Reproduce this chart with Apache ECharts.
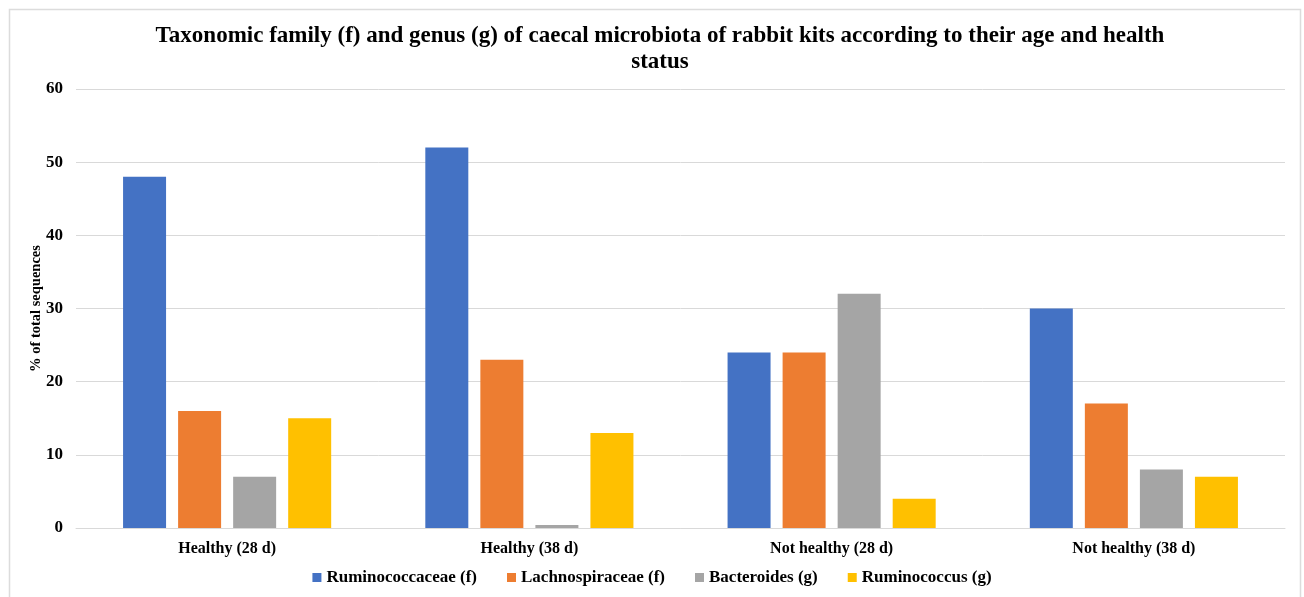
<!DOCTYPE html>
<html>
<head>
<meta charset="utf-8">
<script src="https://cdn.jsdelivr.net/npm/echarts@6/dist/echarts.min.js"></script>
<style>html,body{margin:0;padding:0;background:#fff}#c{width:1304px;height:597px}</style>
</head>
<body>
<div id="c"></div>
<script>
const categories = ['Healthy (28 d)', 'Healthy (38 d)', 'Not healthy (28 d)', 'Not healthy (38 d)'];
const ruminococcaceae = [48, 52, 24, 30];
const lachnospiraceae = [16, 23, 24, 17];
const bacteroides = [7, 0.4, 32, 8];
const ruminococcus = [15, 13, 4, 7];
const seriesNames = ['Ruminococcaceae (f)', 'Lachnospiraceae (f)', 'Bacteroides (g)', 'Ruminococcus (g)'];
const colors = ['#4472C4', '#ED7D31', '#A5A5A5', '#FFC000'];
const seriesData = [ruminococcaceae, lachnospiraceae, bacteroides, ruminococcus];

const serif = '"Liberation Serif", "DejaVu Serif", serif';
const chart = echarts.init(document.getElementById('c'));
chart.setOption({
  animation: false,
  color: colors,
  graphic: [{
    type: 'rect',
    shape: { x: 9.5, y: 9.5, width: 1291, height: 700 },
    style: { fill: 'none', stroke: '#dcdcdc', lineWidth: 1.5 },
    silent: true
  }],
  title: {
    text: 'Taxonomic family (f) and genus (g) of caecal microbiota of rabbit kits according to their age and health\nstatus',
    left: 655, textAlign: 'center', top: 18,
    textStyle: { fontFamily: serif, fontWeight: 'bold', fontSize: 23, color: '#000', lineHeight: 26 }
  },
  legend: {
    bottom: 6, left: 'center', itemWidth: 9, itemHeight: 9, itemGap: 30,
    icon: 'rect',
    textStyle: { fontFamily: serif, fontWeight: 'bold', fontSize: 17, color: '#000' },
    data: seriesNames
  },
  grid: { left: 76, right: 19, top: 89, bottom: 69, containLabel: false },
  xAxis: {
    type: 'category', data: categories,
    axisLine: { lineStyle: { color: '#d9d9d9' } },
    axisTick: { show: false },
    axisLabel: { fontFamily: serif, fontWeight: 'bold', fontSize: 16, color: '#000', margin: 13 }
  },
  yAxis: {
    type: 'value', min: 0, max: 60, interval: 10,
    name: '% of total sequences', nameLocation: 'middle', nameGap: 32,
    nameMoveOverlap: false,
    nameTextStyle: { fontFamily: serif, fontWeight: 'bold', fontSize: 14.5, color: '#000' },
    axisLine: { show: false }, axisTick: { show: false },
    splitLine: { lineStyle: { color: '#d9d9d9' } },
    axisLabel: { fontFamily: serif, fontWeight: 'bold', fontSize: 17, color: '#000', margin: 13 }
  },
  series: seriesData.map((d, i) => ({
    name: seriesNames[i], type: 'bar', data: d,
    barWidth: 43, barGap: '28%'
  }))
});
</script>
</body>
</html>
